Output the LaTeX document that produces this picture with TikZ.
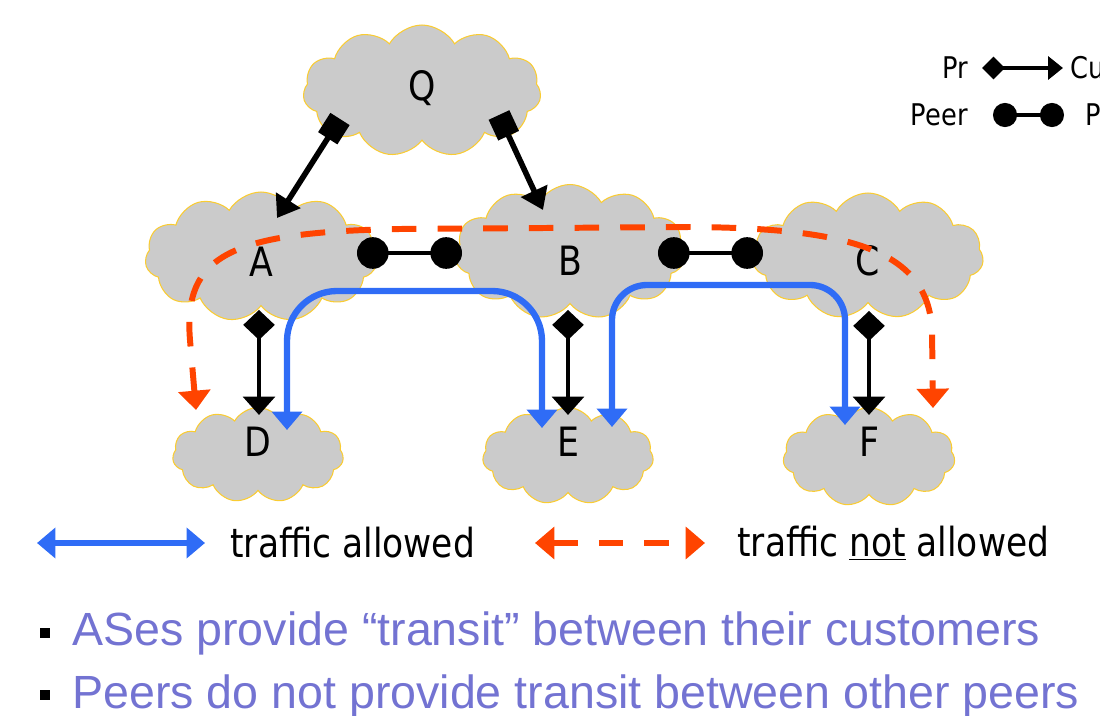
\documentclass[tikz,border=0pt]{standalone}
\usepackage{fontspec}
\setmainfont{DejaVu Sans}[FakeStretch=0.86]
\newfontfamily\bulletfont{Liberation Sans}
\usetikzlibrary{shapes.symbols,arrows.meta,calc,positioning}

\definecolor{cloudfill}{RGB}{203,203,203}
\definecolor{cloudedge}{RGB}{250,204,50}
\definecolor{okblue}{RGB}{47,108,246}
\definecolor{nored}{RGB}{255,68,0}
\definecolor{bullettext}{RGB}{115,115,210}

\tikzstyle{as} = [cloud, cloud puffs=11, cloud puff arc=120, cloud ignores aspect, draw=cloudedge, line width=0.6pt, fill=cloudfill, inner sep=0pt]
\tikzstyle{aslabel} = [font=\fontsize{23pt}{23pt}\selectfont, inner sep=0pt]
\tikzstyle{qlink} = [line width=3.2pt, arrows={Square[length=13pt,width=13pt]-Triangle[width=16pt,length=12pt]}]
\tikzstyle{provlink} = [line width=2.8pt, arrows={Turned Square[length=17pt,width=18pt]-Triangle[width=18pt,length=10.5pt]}]
\tikzstyle{peerlink} = [line width=2.3pt, arrows={Circle[length=18pt]-Circle[length=18pt]}]
\tikzstyle{allowed} = [okblue, line width=3.6pt, arrows={Triangle[width=17pt,length=10.5pt]-Triangle[width=17pt,length=10.5pt]}]
\tikzstyle{notallowed} = [nored, line width=3.4pt, dash pattern=on 14pt off 12pt, arrows={Triangle[width=18pt,length=11pt]-Triangle[width=18pt,length=11pt]}]
\tikzstyle{provlegend} = [line width=2.4pt, arrows={Turned Square[length=13pt,width=13pt]-Triangle[width=13pt,length=8.5pt]}]
\tikzstyle{peerlegend} = [line width=2.3pt, arrows={Circle[length=13.7pt]-Circle[length=13.7pt]}]
\tikzstyle{legendsmall} = [font=\fontsize{17pt}{17pt}\selectfont, inner sep=0pt]
\tikzstyle{legendbig} = [font=\fontsize{22.8pt}{22.8pt}\selectfont, inner sep=0pt]
\tikzstyle{bullet} = [font=\bulletfont\fontsize{26.5pt}{26.5pt}\selectfont, text=bullettext, inner sep=0pt, anchor=base west]

\begin{document}
\begin{tikzpicture}
    [x=0.02cm, y=-0.02cm]
  \useasboundingbox (0,0) rectangle (1100,716);
  % autonomous systems
  \node[as, minimum width=4.76cm, minimum height=2.64cm, label={[aslabel, yshift=0.05cm]center:Q}] (Q) at (422,91) {};
  \node[as, minimum width=4.64cm, minimum height=2.6cm, label={[aslabel, yshift=-0.1cm]center:A}] (A) at (261,257) {};
  \node[as, minimum width=4.6cm, minimum height=2.7cm, label={[aslabel, yshift=-0.18cm]center:B}] (B) at (570,252) {};
  \node[as, minimum width=4.62cm, minimum height=2.52cm, label={[aslabel, yshift=-0.1cm]center:C}] (C) at (868,256) {};
  \node[as, minimum width=3.42cm, minimum height=1.9cm, label={[aslabel, yshift=0.26cm]center:D}] (D) at (258,455) {};
  \node[as, minimum width=3.42cm, minimum height=1.94cm, label={[aslabel, yshift=0.28cm]center:E}] (E) at (568,456) {};
  \node[as, minimum width=3.44cm, minimum height=1.98cm, label={[aslabel, yshift=0.3cm]center:F}] (F) at (869,457) {};
  % provider -> customer
  \draw[qlink] ($(Q)+(-82,28)$) -- ($(A)+(16,-39)$);
  \draw[qlink] ($(Q)+(77,24)$) -- ($(B)+(-27,-42)$);
  \draw[provlink] ($(A)+(-2,53)$) -- ($(D)+(1,-40)$);
  \draw[provlink] ($(B)+(-2,58)$) -- ($(E)+(0,-41)$);
  \draw[provlink] ($(C)+(1,55)$) -- ($(F)+(0,-42)$);
  % peers
  \draw[peerlink] ($(A)+(96,-4)$) -- ($(B)+(-108,1)$);
  \draw[peerlink] ($(B)+(88,1)$) -- ($(C)+(-105,-3)$);
  % traffic
  \draw[allowed, rounded corners=1cm] ($(D)+(29,-25)$) -- (287,291) -- (542,291) -- ($(E)+(-26,-28)$);
  \draw[allowed, rounded corners=0.7cm] ($(E)+(44,-29)$) -- (612,285) -- (845,285) -- ($(F)+(-24,-32)$);
  \draw[notallowed] ($(D)+(-62,-45)$) -- (190,340) .. controls (183,255) and (230,232) .. (400,229)
    -- (690,227) .. controls (850,228) and (928,250) .. (932,330) -- ($(F)+(64,-49)$);
  % legend, top right
  \coordinate (prL) at (982,68);
  \coordinate (prR) at (1063,68);
  \draw[provlegend] (prL) -- (prR);
  \node[legendsmall, left=0.28cm of prL] (prtxt) {Pr};
  \node[legendsmall, right=0.14cm of prR] (cutxt) {Cu};
  \coordinate (peerL) at (993,115);
  \coordinate (peerR) at (1064,115);
  \draw[peerlegend] (peerL) -- (peerR);
  \node[legendsmall, left=0.5cm of peerL] (peertxt) {Peer};
  \node[legendsmall, right=0.42cm of peerR] (ptxt) {P};
  % legend, bottom
  \coordinate (okL) at (37,543);
  \coordinate (okR) at (205,543);
  \draw[allowed] (okL) -- (okR);
  \node[legendbig, right=0.5cm of okR] (oktxt) {traffic allowed};
  \coordinate (noL) at (535,543);
  \coordinate (noR) at (705,543);
  \draw[notallowed] (noL) -- (noR);
  \node[legendbig, right=0.64cm of noR] (notxt) {traffic \underline{not} allowed};
  % bullets
  \node[bullet] (transit) at (40,645) {\textcolor{black}{\rule[4pt]{5.7pt}{5.7pt}}\hspace{12.5pt}ASes provide “transit” between their customers};
  \node[bullet] (nopeer) at (40,708) {\textcolor{black}{\rule[4.5pt]{5.7pt}{5.7pt}}\hspace{12.5pt}Peers do not provide transit between other peers};
\end{tikzpicture}
\end{document}
